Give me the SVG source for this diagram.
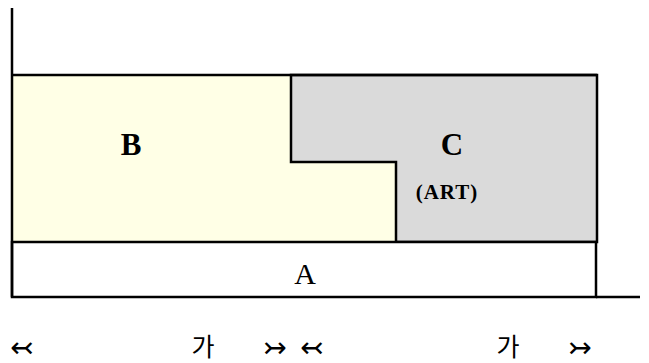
<svg xmlns="http://www.w3.org/2000/svg" width="649" height="363" viewBox="0 0 649 363">
<style>
.ln{stroke:#000;stroke-width:2.5;fill:none}
.t{font-family:"Liberation Serif","Noto Sans CJK KR",serif;fill:#000;text-anchor:middle}
.k{font-family:"Noto Sans CJK KR","Liberation Serif",sans-serif;fill:#000;text-anchor:middle}
.ar{font-family:"DejaVu Sans","Noto Sans CJK KR",sans-serif;fill:#000;text-anchor:middle;dominant-baseline:central;font-size:28px}
</style>
<rect width="649" height="363" fill="#fff"/>
<g id="B">
<path d="M12 75 H291 V162 H396 V242 H12 Z" fill="#FFFFE6"/>
<text class="t" x="131" y="155" style="font-size:31px;font-weight:bold">B</text>
</g>
<g id="C">
<path d="M291 75 H597 V242 H396 V162 H291 Z" class="ln" style="fill:#DADADA"/>
<text class="t" x="452" y="155" style="font-size:31px;font-weight:bold">C</text>
<text class="t" x="447" y="199" style="font-size:21px;font-weight:bold;letter-spacing:1px">(ART)</text>
</g>
<g id="A">
<rect x="12" y="242" width="584" height="55" class="ln" style="fill:#fff"/>
<text class="t" x="305" y="284" style="font-size:30px">A</text>
</g>
<g id="connectors">
<path class="ln" d="M12 8 V297"/>
<path class="ln" d="M12 75 H597"/>
<path class="ln" d="M596 297 H640"/>
</g>
<g id="labels">
<text class="ar" x="22" y="347">↢</text>
<text class="k" x="203" y="356" style="font-size:25px">가</text>
<text class="ar" x="275" y="347">↣</text>
<text class="ar" x="312" y="347">↢</text>
<text class="k" x="508" y="356" style="font-size:25px">가</text>
<text class="ar" x="580" y="347">↣</text>
</g>
</svg>
